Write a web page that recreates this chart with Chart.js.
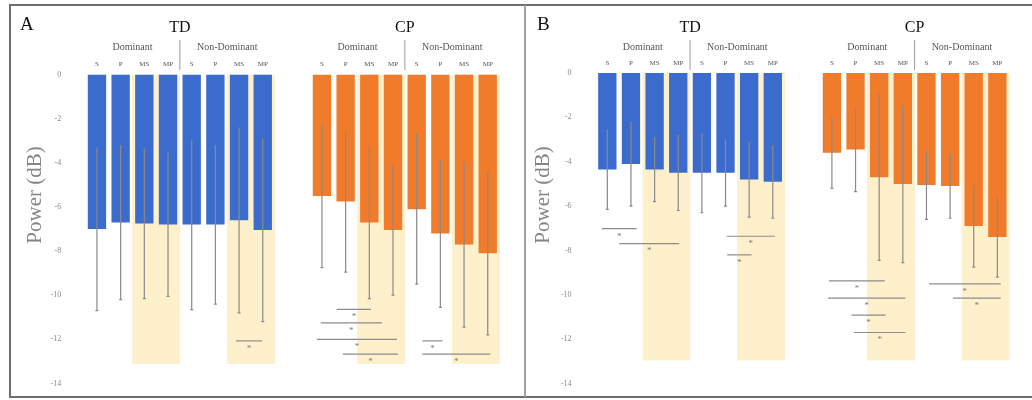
<!DOCTYPE html>
<html>
<head>
<meta charset="utf-8">
<script src="https://cdn.jsdelivr.net/npm/chart.js@4.4.1/dist/chart.umd.min.js"></script>
<style>
  body { margin: 0; background: #fff; }
  #wrap { position: relative; width: 1032px; height: 400px; overflow: hidden; }
  .pane { position: absolute; top: 0; }
  #frame { position: absolute; left: 9px; top: 4px; width: 1023px; height: 394px; box-sizing: border-box;
           border-top: 2px solid #6e6e6e; border-left: 2px solid #6e6e6e; border-bottom: 2px solid #6e6e6e; }
  #split { position: absolute; left: 524px; top: 5px; width: 2px; height: 392px; background: #a0a0a0; }
</style>
</head>
<body>
<div id="wrap">
  <canvas id="chartA" class="pane" style="left:0" width="516" height="400"></canvas>
  <canvas id="chartB" class="pane" style="left:516px" width="516" height="400"></canvas>
  <div id="frame"></div>
  <div id="split"></div>
</div>
<script>
// labels
const conditions = ['S', 'P', 'MS', 'MP']
const sides = ['Dominant', 'Non-Dominant']
const groups = ['TD', 'CP']
const shadedBars = [2, 3, 6, 7]   // MS and MP columns

// panel A - means and SD (dB), order: Dom S,P,MS,MP then Non-Dom S,P,MS,MP
const tdMeanA = [-7.0, -6.7, -6.75, -6.8, -6.8, -6.8, -6.6, -7.05]
const tdSdA   = [3.7, 3.5, 3.4, 3.25, 3.85, 3.6, 4.2, 4.15]
const cpMeanA = [-5.5, -5.75, -6.7, -7.05, -6.1, -7.2, -7.7, -8.1]
const cpSdA   = [3.25, 3.2, 3.45, 2.95, 3.4, 3.35, 3.75, 3.7]
const shadeDepthA = -13.1
// significance bars: [from, to, level]
const sigA = [
  [5.87, 6.97, -12.07],
  [10.13, 11.57, -10.64], [9.45, 12.03, -11.25], [9.29, 12.67, -12.0], [10.38, 12.71, -12.67],
  [13.74, 14.59, -12.07], [13.74, 16.61, -12.67]
]

// panel B
const tdMeanB = [-4.35, -4.1, -4.35, -4.5, -4.5, -4.5, -4.8, -4.9]
const tdSdB   = [1.8, 1.9, 1.45, 1.7, 1.8, 1.5, 1.7, 1.65]
const cpMeanB = [-3.6, -3.45, -4.7, -5.0, -5.05, -5.1, -6.9, -7.4]
const cpSdB   = [1.6, 1.9, 3.75, 3.55, 1.55, 1.45, 1.85, 1.8]
const shadeDepthB = -12.95
const sigB = [
  [-0.24, 1.24, -7.02], [0.51, 3.04, -7.69], [5.05, 7.09, -7.36], [5.07, 6.1, -8.2],
  [9.38, 11.74, -9.37], [9.34, 12.61, -10.15], [10.33, 11.77, -10.92], [10.43, 12.61, -11.7],
  [13.61, 16.64, -9.51], [14.62, 16.64, -10.15]
]

const groupStart = [0, 9.5]
const blue = '#3c6bce', orange = '#f07b2b', shade = '#fdf0cb'
const serif = '"Liberation Serif", "DejaVu Serif", serif'

function makeDecor(p) {
  return {
    id: 'decor' + p.letter,
    afterDatasetsDraw(chart) {
      const ctx = chart.ctx, x = chart.scales.x, y = chart.scales.y
      ctx.save()
      // error bars
      ctx.strokeStyle = '#8a8a8a'
      ctx.lineWidth = 1.2
      p.series.forEach((s, g) => s.mean.forEach((m, i) => {
        const px = x.getPixelForValue(groupStart[g] + i)
        const y1 = y.getPixelForValue(m + s.sd[i]), y2 = y.getPixelForValue(m - s.sd[i])
        ctx.beginPath()
        ctx.moveTo(px, y1); ctx.lineTo(px, y2)
        ctx.moveTo(px - 1.5, y2); ctx.lineTo(px + 1.5, y2)
        ctx.stroke()
      }))
      // significance lines
      ctx.strokeStyle = '#8c8c8c'
      ctx.fillStyle = '#7a7a7a'
      ctx.font = '9px ' + serif
      ctx.textAlign = 'center'
      ctx.textBaseline = 'top'
      p.sig.forEach(([a, b, v]) => {
        const xa = x.getPixelForValue(a), xb = x.getPixelForValue(b), py = y.getPixelForValue(v)
        ctx.beginPath(); ctx.moveTo(xa, py); ctx.lineTo(xb, py); ctx.stroke()
        ctx.fillText('*', (xa + xb) / 2, py + 3)
      })
      ctx.restore()
    },
    afterDraw(chart) {
      const ctx = chart.ctx, x = chart.scales.x
      ctx.save()
      ctx.fillStyle = '#111'
      ctx.font = '19px ' + serif
      ctx.textAlign = 'left'
      ctx.textBaseline = 'middle'
      ctx.fillText(p.letter, p.letterX, 25)
      groups.forEach((gname, g) => {
        const mid = x.getPixelForValue(groupStart[g] + 3.5)
        ctx.fillStyle = '#111'
        ctx.font = '16px ' + serif
        ctx.textAlign = 'center'
        ctx.fillText(gname, mid, 28)
        ctx.fillStyle = '#555'
        ctx.font = '10px ' + serif
        ctx.fillText(sides[0], x.getPixelForValue(groupStart[g] + 1.5), 47.5)
        ctx.fillText(sides[1], x.getPixelForValue(groupStart[g] + 5.5), 47.5)
        ctx.strokeStyle = '#9a9a9a'
        ctx.lineWidth = 1
        ctx.beginPath(); ctx.moveTo(mid, 40); ctx.lineTo(mid, 70); ctx.stroke()
      })
      ctx.translate(p.titleX, 195)
      ctx.rotate(-Math.PI / 2)
      ctx.fillStyle = '#858585'
      ctx.font = '21px ' + serif
      ctx.fillText('Power (dB)', 0, 0)
      ctx.restore()
    }
  }
}

function makePanel(id, p) {
  const barX = []
  groups.forEach((g, gi) => conditions.concat(conditions).forEach((c, i) => barX.push(groupStart[gi] + i)))
  const shadeData = []
  groupStart.forEach(s => shadedBars.forEach(i => shadeData.push({ x: s + i, y: [0, p.shadeDepth] })))

  new Chart(document.getElementById(id), {
    type: 'bar',
    data: {
      datasets: [
        { label: 'shade', data: shadeData, backgroundColor: shade, grouped: false,
          barPercentage: 1, categoryPercentage: 1, order: 5 },
        { label: 'TD', data: p.series[0].mean.map((v, i) => ({ x: groupStart[0] + i, y: v })),
          backgroundColor: blue, grouped: false, barPercentage: 0.775, categoryPercentage: 1 },
        { label: 'CP', data: p.series[1].mean.map((v, i) => ({ x: groupStart[1] + i, y: v })),
          backgroundColor: orange, grouped: false, barPercentage: 0.775, categoryPercentage: 1 }
      ]
    },
    options: {
      responsive: false,
      animation: false,
      layout: { padding: { left: 0, top: 0, right: p.padRight, bottom: p.padBottom } },
      plugins: { legend: { display: false }, tooltip: { enabled: false } },
      scales: {
        x: {
          type: 'linear', position: 'top', min: -0.75, max: 17.25, offset: false,
          grid: { display: false, drawTicks: false }, border: { display: false },
          afterBuildTicks: s => { s.ticks = barX.map(v => ({ value: v })) },
          afterFit: s => { s.height = p.top; s.paddingLeft = 0; s.paddingRight = 0 },
          ticks: { autoSkip: false, maxRotation: 0, padding: 6, color: '#555',
                   font: { family: serif, size: 7 },
                   callback: (v, i) => conditions[i % 4] }
        },
        y: {
          min: -14, max: 0,
          grid: { display: false, drawTicks: false }, border: { display: false },
          afterFit: s => { s.width = p.left; s.paddingTop = 0; s.paddingBottom = 0 },
          ticks: { stepSize: 2, padding: 18, color: '#8a8a8a', font: { family: serif, size: 8 } }
        }
      }
    },
    plugins: [makeDecor(p)]
  })
}

makePanel('chartA', {
  letter: 'A', letterX: 20, titleX: 35,
  left: 79.2, top: 74.5, padRight: 10.5, padBottom: 16.5,
  shadeDepth: shadeDepthA, sig: sigA,
  series: [{ mean: tdMeanA, sd: tdSdA }, { mean: cpMeanA, sd: cpSdA }]
})
makePanel('chartB', {
  letter: 'B', letterX: 21, titleX: 27,
  left: 73.6, top: 73, padRight: 16.9, padBottom: 16.5,
  shadeDepth: shadeDepthB, sig: sigB,
  series: [{ mean: tdMeanB, sd: tdSdB }, { mean: cpMeanB, sd: cpSdB }]
})
</script>
</body>
</html>
